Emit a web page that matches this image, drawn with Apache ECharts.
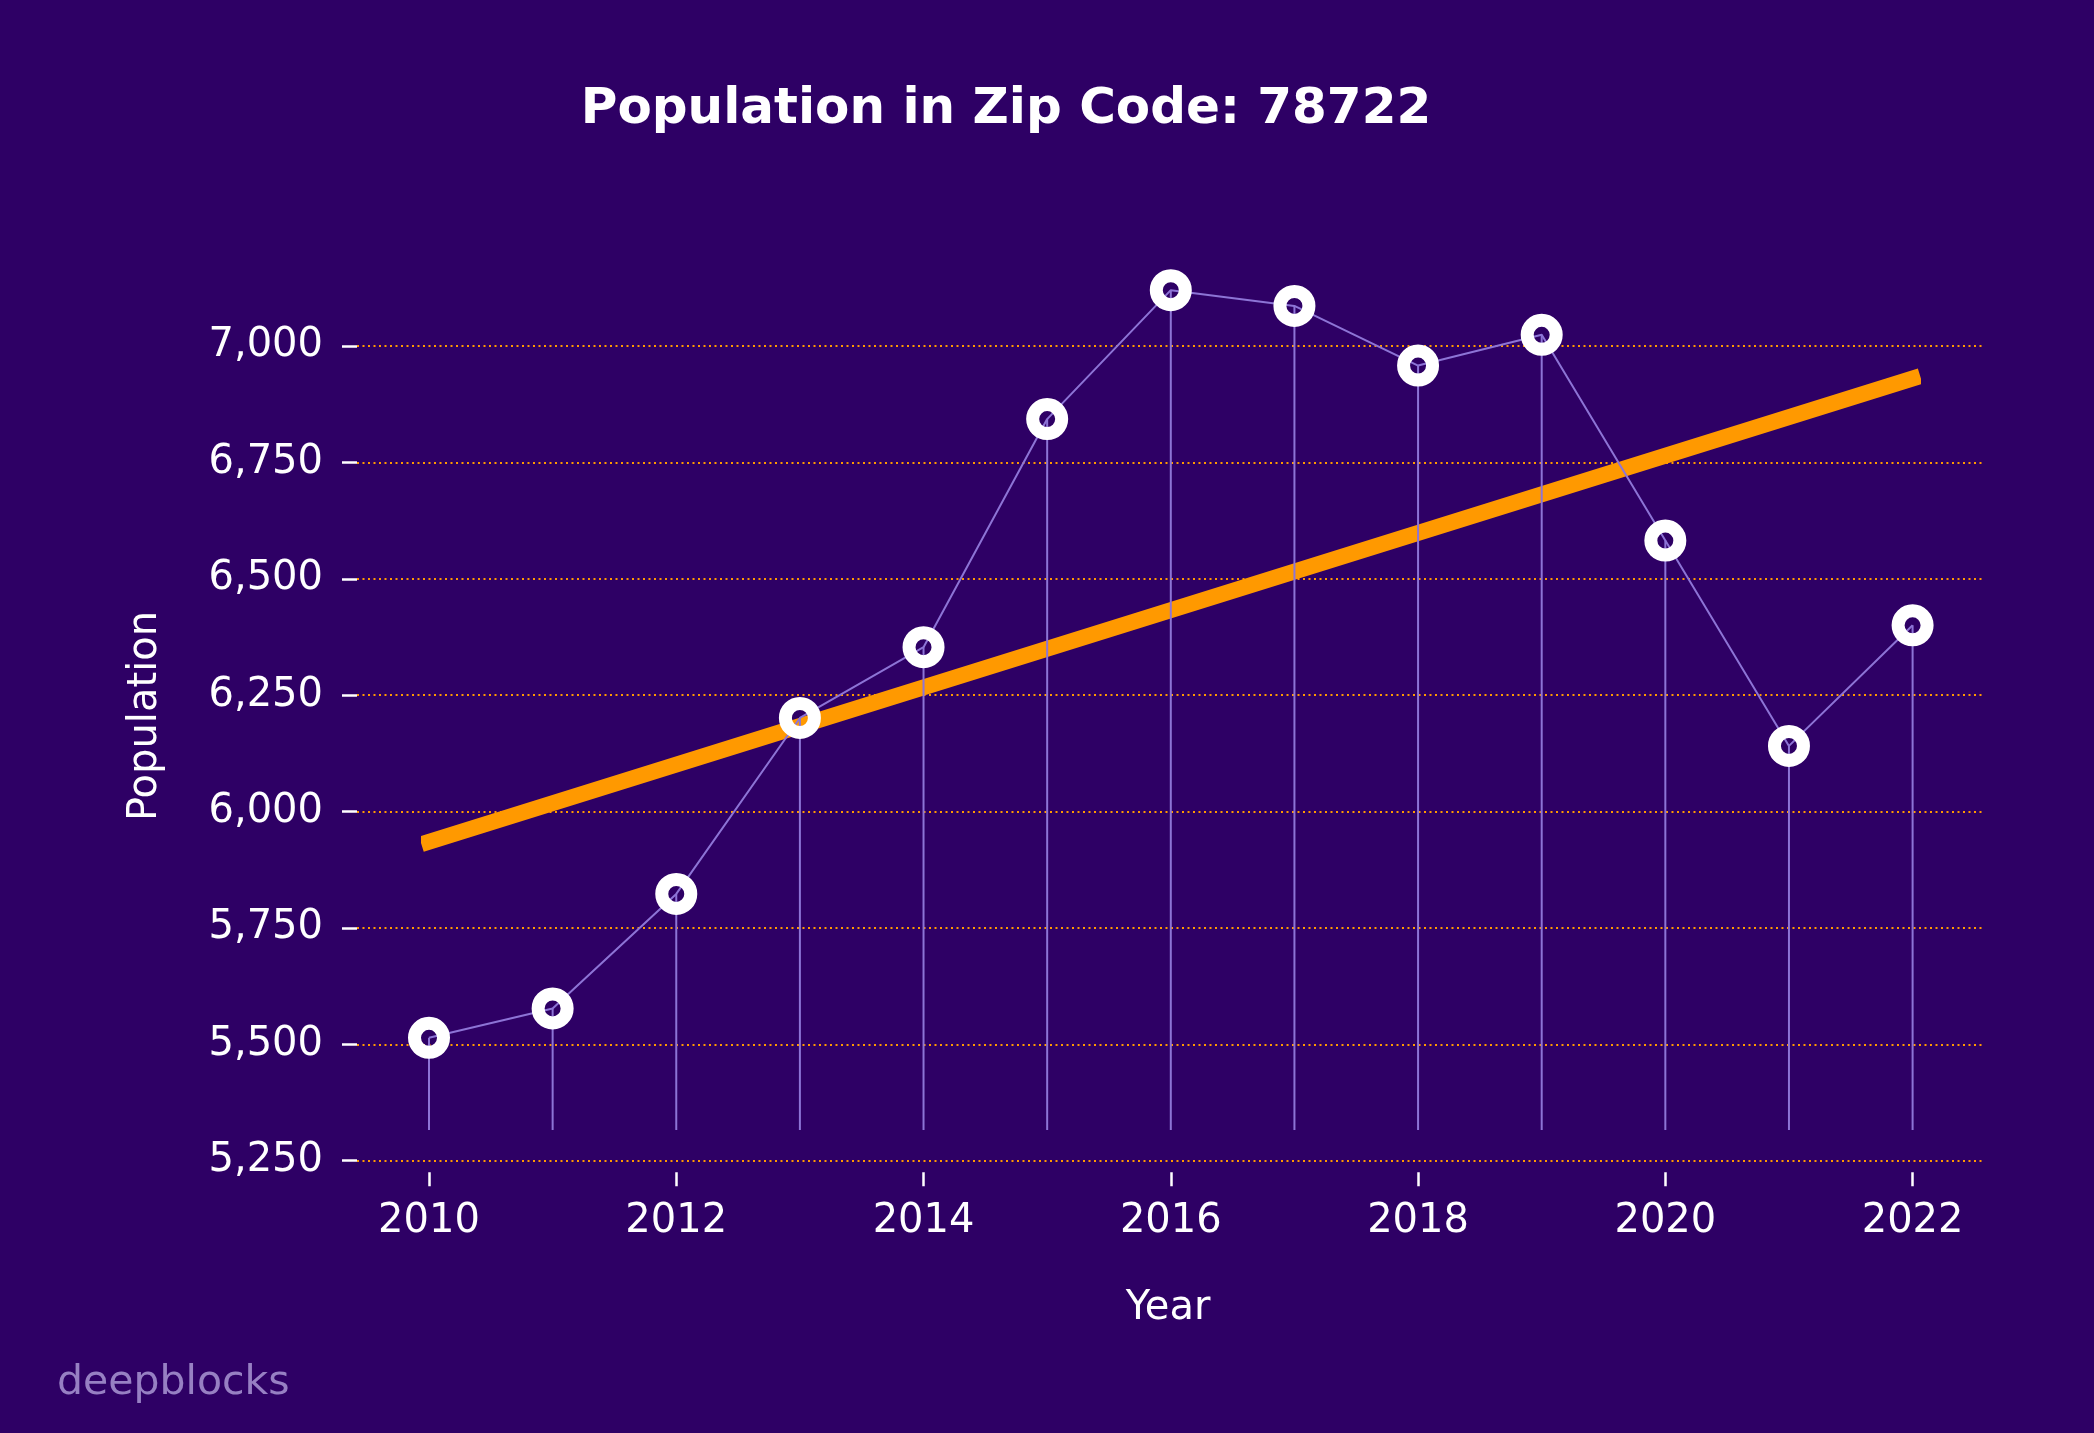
<!DOCTYPE html>
<html>
<head>
<meta charset="utf-8">
<script src="https://cdn.jsdelivr.net/npm/echarts@6/dist/echarts.min.js"></script>
<style>
  html, body { margin: 0; padding: 0; background: #2e0065; }
  #chart { width: 2094px; height: 1433px; }
</style>
</head>
<body>
<div id="chart"></div>
<script>
// ---- data ----
const years = [2010, 2011, 2012, 2013, 2014, 2015, 2016, 2017, 2018, 2019, 2020, 2021, 2022];
const population = [5514, 5577, 5823, 6201, 6353, 6843, 7120, 7086, 6958, 7024, 6582, 6141, 6400];
const trendYears = [2010, 2022];
const trendValues = [5935, 6930];
const stemBase = 5316;
const xTicks = [2010, 2012, 2014, 2016, 2018, 2020, 2022];
const yTicks = [5250, 5500, 5750, 6000, 6250, 6500, 6750, 7000];

const titleText = 'Population in Zip Code: 78722';
const xName = 'Year';
const yName = 'Population';
const watermark = 'deepblocks';

// ---- styling ----
const BG = '#2e0065';
const ORANGE = '#ff9900';
const LINEC = '#8d74d6';
const FONT = '"DejaVu Sans", "Liberation Sans", sans-serif';

const chart = echarts.init(document.getElementById('chart'), null, { renderer: 'canvas' });

const popPoints = years.map((y, i) => [y, population[i]]);
const trendPoints = trendYears.map((y, i) => [y, trendValues[i]]);

const yMin = yTicks[0], yMax = yTicks[yTicks.length - 1], yStep = yTicks[1] - yTicks[0];
const xMin = xTicks[0], xMax = xTicks[xTicks.length - 1], xStep = xTicks[1] - xTicks[0];

const option = {
  backgroundColor: BG,
  animation: false,
  textStyle: { fontFamily: FONT },
  grid: [
    // grid 0: wide area for horizontal grid lines and y labels
    { left: 357, right: 112, top: 346, bottom: 272.3, containLabel: false },
    // grid 1: data area (2010..2022 x 5250..7000)
    { left: 429, right: 181.4, top: 346, bottom: 272.3, containLabel: false }
  ],
  xAxis: [
    { gridIndex: 0, type: 'value', min: 0, max: 1, show: false },
    {
      gridIndex: 1, type: 'value', min: xMin, max: xMax, interval: xStep,
      position: 'bottom', offset: 11.5,
      axisLine: { show: false },
      axisTick: { show: true, length: 14, lineStyle: { color: '#ffffff', width: 2.5 } },
      axisLabel: { color: '#ffffff', fontSize: 40, fontFamily: FONT, margin: 29, formatter: v => String(v) },
      splitLine: { show: false }
    }
  ],
  yAxis: [
    {
      gridIndex: 0, type: 'value', min: yMin, max: yMax, interval: yStep,
      axisLine: { show: false },
      axisTick: { show: true, length: 15, lineStyle: { color: '#ffffff', width: 2.5 } },
      axisLabel: { color: '#ffffff', fontSize: 40, fontFamily: FONT, margin: 34, padding: [11, 0, 0, 0],
        formatter: v => Number(v).toLocaleString('en-US') },
      splitLine: { show: true, lineStyle: { color: ORANGE, width: 2, type: [2, 3.5] } }
    },
    { gridIndex: 1, type: 'value', min: yMin, max: yMax, show: false }
  ],
  series: [
    {
      type: 'line', name: 'trend', xAxisIndex: 1, yAxisIndex: 1,
      data: trendPoints, symbol: 'none', clip: false, z: 3,
      lineStyle: { color: ORANGE, width: 16, cap: 'square' },
      emphasis: { disabled: true }, silent: true
    },
    {
      type: 'custom', name: 'stems', xAxisIndex: 1, yAxisIndex: 1,
      data: popPoints, z: 4, clip: false, silent: true,
      renderItem: function (params, api) {
        const top = api.coord([api.value(0), api.value(1)]);
        const bot = api.coord([api.value(0), stemBase]);
        return {
          type: 'line',
          shape: { x1: top[0], y1: top[1], x2: bot[0], y2: bot[1] },
          style: { stroke: LINEC, lineWidth: 2 }
        };
      }
    },
    {
      type: 'line', name: 'population', xAxisIndex: 1, yAxisIndex: 1,
      data: popPoints, clip: false, z: 5,
      symbol: 'circle', symbolSize: 29,
      itemStyle: { color: 'rgba(0,0,0,0)', borderColor: '#ffffff', borderWidth: 13 },
      lineStyle: { color: LINEC, width: 2 },
      emphasis: { disabled: true }, silent: true
    }
  ],
  graphic: [
    {
      type: 'text', x: 1006, y: 110, z: 10,
      style: { text: titleText, fill: '#ffffff', font: 'bold 50px ' + FONT, align: 'center', verticalAlign: 'middle' }
    },
    {
      type: 'text', x: 1168, y: 1309, z: 10,
      style: { text: xName, fill: '#ffffff', font: '40px ' + FONT, align: 'center', verticalAlign: 'middle' }
    },
    {
      type: 'text', x: 146, y: 716, rotation: Math.PI / 2, z: 10,
      style: { text: yName, fill: '#ffffff', font: '40px ' + FONT, align: 'center', verticalAlign: 'middle' }
    },
    {
      type: 'text', x: 57, y: 1383, z: 10,
      style: { text: watermark, fill: '#9780c3', font: '41px ' + FONT, align: 'left', verticalAlign: 'middle' }
    }
  ]
};

chart.setOption(option);
</script>
</body>
</html>
